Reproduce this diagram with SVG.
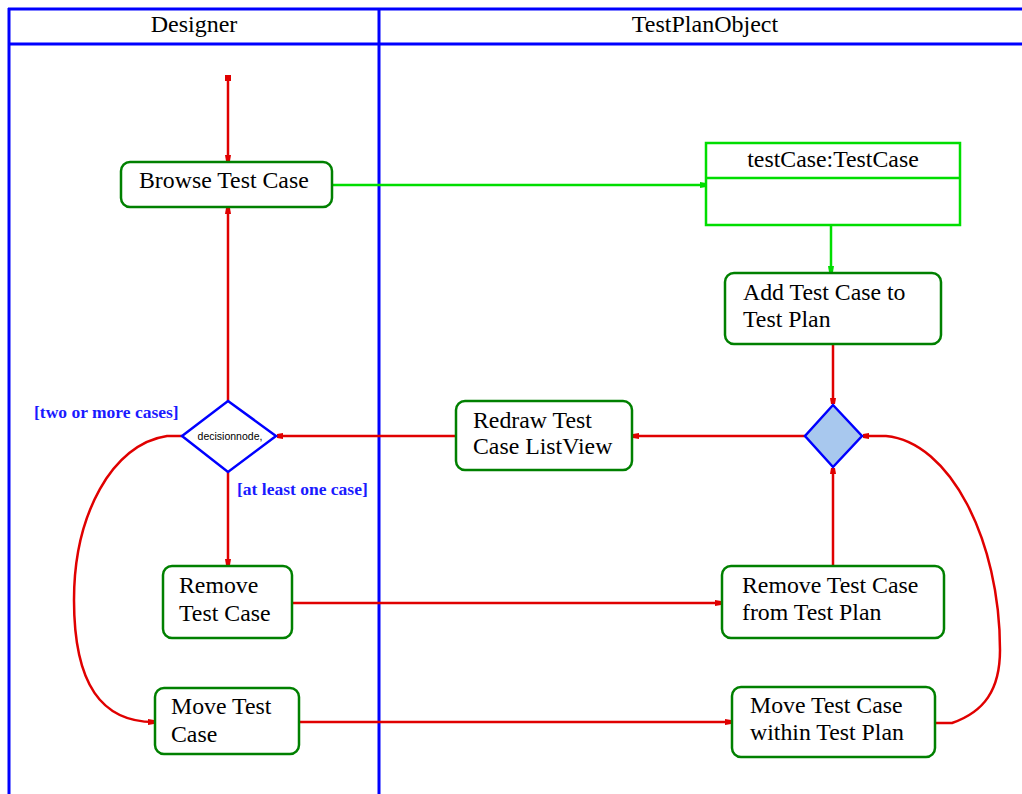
<svg xmlns="http://www.w3.org/2000/svg" width="1022" height="794" viewBox="0 0 1022 794">
<style>
.lane{stroke:#0000ff;stroke-width:3;fill:none}
.hdr{font-family:"Liberation Serif","Times New Roman",serif;font-size:24px;fill:#000}
.node{fill:#fff;stroke:#008000;stroke-width:2.5}
.obj{fill:#fff;stroke:#00dd00;stroke-width:2.5}
.t{font-family:"Liberation Serif","Times New Roman",serif;font-size:23.8px;fill:#000}
.red{stroke:#e00000;stroke-width:2.5;fill:none}
.grn{stroke:#00dd00;stroke-width:2.5;fill:none}
.guard{font-family:"Liberation Serif","Times New Roman",serif;font-size:17.5px;font-weight:bold;fill:#1a1aff}
.dec{stroke:#0000ff;stroke-width:2.5}
</style>
<defs>
<marker id="ar" viewBox="0 0 6 6" refX="6" refY="3" markerWidth="6" markerHeight="6" markerUnits="userSpaceOnUse" orient="auto"><path d="M0,0 L6,1 L6,5 L0,6 z" fill="#e00000"/></marker>
<marker id="sq" viewBox="0 0 6 6" refX="3" refY="3" markerWidth="6" markerHeight="6" markerUnits="userSpaceOnUse" orient="auto"><rect width="6" height="6" fill="#e00000"/></marker>
<marker id="ag" viewBox="0 0 6 6" refX="6" refY="3" markerWidth="6" markerHeight="6" markerUnits="userSpaceOnUse" orient="auto"><path d="M0,0 L6,1 L6,5 L0,6 z" fill="#00dd00"/></marker>
</defs>
<rect width="1022" height="794" fill="#fff"/>
<g id="lanes">
<path class="lane" d="M8,9 H1022 M8,44 H1022 M9,8 V794 M379,8 V794"/>
<text class="hdr" x="194" y="32" text-anchor="middle">Designer</text>
<text class="hdr" x="705" y="32" text-anchor="middle">TestPlanObject</text>
</g>
<g id="connectors">
<line class="red" x1="228" y1="78" x2="228" y2="161" marker-start="url(#sq)" marker-end="url(#ar)"/>
<line class="grn" x1="333" y1="185" x2="706" y2="185" marker-end="url(#ag)"/>
<line class="grn" x1="831" y1="225" x2="831" y2="272" marker-end="url(#ag)"/>
<line class="red" x1="833" y1="345" x2="833" y2="404" marker-end="url(#ar)"/>
<line class="red" x1="805" y1="436" x2="633" y2="436" marker-end="url(#ar)"/>
<line class="red" x1="456" y1="436" x2="277" y2="436" marker-end="url(#ar)"/>
<line class="red" x1="228" y1="401" x2="228" y2="208" marker-end="url(#ar)"/>
<line class="red" x1="228" y1="472" x2="228" y2="565" marker-end="url(#ar)"/>
<path class="red" d="M182,436 L167,436 C112,444 74,515 74,600 C74,685 102,722 154,722" marker-end="url(#ar)"/>
<line class="red" x1="292" y1="603" x2="721" y2="603" marker-end="url(#ar)"/>
<line class="red" x1="833" y1="566" x2="833" y2="468" marker-end="url(#ar)"/>
<line class="red" x1="299" y1="722" x2="731" y2="722" marker-end="url(#ar)"/>
<path class="red" d="M935,723 L952,723 C984,712 1000,690 1000,650 C1000,540 950,442 886,436 L863,436" marker-end="url(#ar)"/>
<text class="guard" x="34" y="418">[two or more cases]</text>
<text class="guard" x="237" y="495">[at least one case]</text>
</g>
<g id="browse">
<rect class="node" x="121" y="162" width="211" height="45" rx="9"/>
<text class="t" x="139" y="188">Browse Test Case</text>
</g>
<g id="testCase">
<rect class="obj" x="706" y="143" width="254" height="82"/>
<line class="obj" x1="706" y1="178" x2="960" y2="178"/>
<text class="t" x="833" y="167" text-anchor="middle">testCase:TestCase</text>
</g>
<g id="addTestCase">
<rect class="node" x="725" y="273" width="216" height="71" rx="9"/>
<text class="t" x="743" y="300">Add Test Case to</text>
<text class="t" x="743" y="327">Test Plan</text>
</g>
<g id="decisionRight">
<polygon class="dec" points="833,405 862,436 833,467 805,436" fill="#a8c8ee"/>
</g>
<g id="redraw">
<rect class="node" x="456" y="401" width="176" height="69" rx="9"/>
<text class="t" x="473" y="428">Redraw Test</text>
<text class="t" x="473" y="454">Case ListView</text>
</g>
<g id="decisionLeft">
<polygon class="dec" points="228,401 276,436 228,472 182,436" fill="#fff"/>
<text x="230" y="440" text-anchor="middle" font-family="Liberation Sans, Arial, sans-serif" font-size="10.5" fill="#000">decisionnode,</text>
</g>
<g id="removeTestCase">
<rect class="node" x="163" y="566" width="129" height="72" rx="9"/>
<text class="t" x="179" y="593">Remove</text>
<text class="t" x="179" y="621">Test Case</text>
</g>
<g id="removeFromPlan">
<rect class="node" x="722" y="566" width="222" height="72" rx="9"/>
<text class="t" x="742" y="593">Remove Test Case</text>
<text class="t" x="742" y="620">from Test Plan</text>
</g>
<g id="moveTestCase">
<rect class="node" x="155" y="688" width="144" height="66" rx="9"/>
<text class="t" x="171" y="714">Move Test</text>
<text class="t" x="171" y="742">Case</text>
</g>
<g id="moveWithin">
<rect class="node" x="732" y="687" width="203" height="70" rx="9"/>
<text class="t" x="750" y="713">Move Test Case</text>
<text class="t" x="750" y="740">within Test Plan</text>
</g>
</svg>
